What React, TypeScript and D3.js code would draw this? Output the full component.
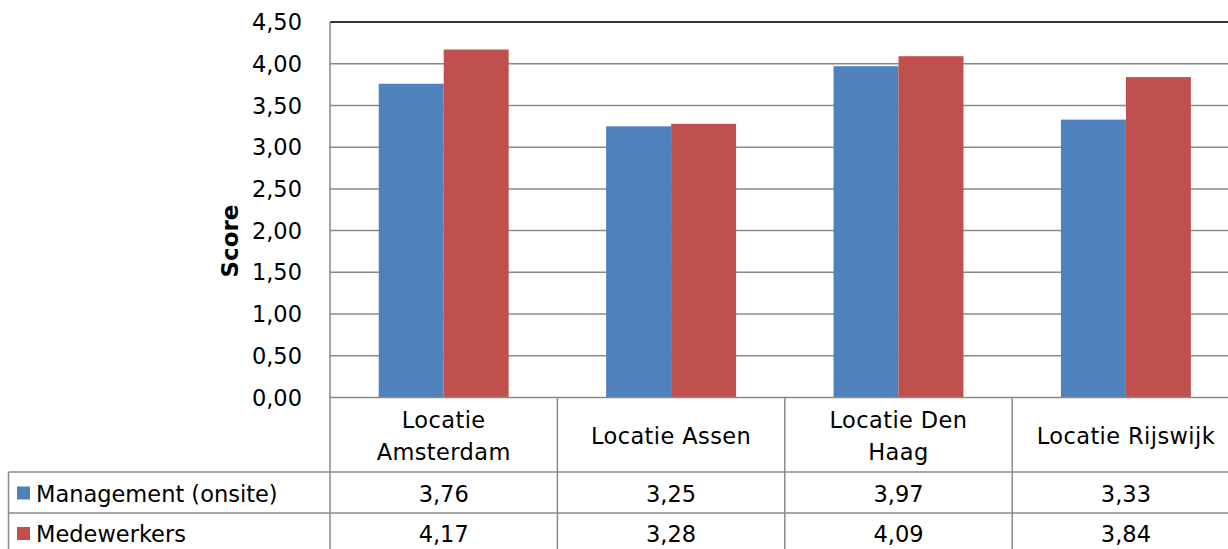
import React from "react";
import * as d3 from "d3";

const categories = [
  ["Locatie", "Amsterdam"],
  ["Locatie Assen"],
  ["Locatie Den", "Haag"],
  ["Locatie Rijswijk"],
];
const seriesNames = ["Management (onsite)", "Medewerkers"];
const management = [3.76, 3.25, 3.97, 3.33];
const medewerkers = [4.17, 3.28, 4.09, 3.84];
const seriesColors = ["#4F81BD", "#C0504D"];
const yTicks = [0, 0.5, 1, 1.5, 2, 2.5, 3, 3.5, 4, 4.5];

const W = 1228;
const H = 549;
const FONT = "'DejaVu Sans', sans-serif";
const FS = 22.5;

const plotLeft = 330;
const plotTop = 22;
const plotBottom = 397.5;
const catWidth = 227.4;
const plotRight = plotLeft + catWidth * categories.length;
const headerBottom = 472;
const row1Bottom = 513;
const row2Bottom = 554;
const tableLeft = 8.5;
const gridColor = "#8a8a8a";

const fmt = (v: number) => v.toFixed(2).replace(".", ",");

export default function App() {
  const series = [management, medewerkers];
  const y = d3.scaleLinear().domain([0, 4.5]).range([plotBottom, plotTop]);
  const x = d3
    .scaleBand<number>()
    .domain(d3.range(categories.length))
    .range([plotLeft, plotRight])
    .padding(0);
  const xs = d3
    .scaleBand<number>()
    .domain(d3.range(series.length))
    .range([0, x.bandwidth()])
    .paddingInner(0)
    .paddingOuter(0.75);

  const rowMid = [493.5, 534];

  return (
    <svg
      width={W}
      height={H}
      style={{ position: "absolute", left: 0, top: 0, background: "#fff" }}
      fontFamily={FONT}
    >
      {/* gridlines */}
      {yTicks.slice(1).map((t) => (
        <line
          key={t}
          x1={plotLeft}
          x2={plotRight}
          y1={y(t)}
          y2={y(t)}
          stroke={gridColor}
          strokeWidth={1.5}
        />
      ))}
      <line x1={plotLeft} x2={plotRight} y1={plotTop} y2={plotTop} stroke="#111" strokeWidth={1.5} />

      {/* bars */}
      {series.map((vals, si) =>
        vals.map((v, ci) => (
          <rect
            key={`${si}-${ci}`}
            x={(x(ci) ?? 0) + (xs(si) ?? 0)}
            y={y(v)}
            width={xs.bandwidth()}
            height={plotBottom - y(v)}
            fill={seriesColors[si]}
          />
        ))
      )}

      {/* y axis */}
      <line x1={plotLeft} x2={plotLeft} y1={plotTop} y2={row2Bottom} stroke={gridColor} strokeWidth={1.5} />
      {yTicks.map((t) => (
        <text
          key={t}
          x={302}
          y={y(t)}
          dy="0.36em"
          textAnchor="end"
          fontSize={FS}
          fill="#000"
        >
          {fmt(t)}
        </text>
      ))}
      <text
        transform={`translate(${238},${241}) rotate(-90)`}
        textAnchor="middle"
        fontSize={23}
        fontWeight="bold"
        fill="#000"
      >
        Score
      </text>

      {/* data table grid */}
      <line x1={plotLeft} x2={plotRight} y1={plotBottom} y2={plotBottom} stroke={gridColor} strokeWidth={1.5} />
      <line x1={tableLeft} x2={plotRight} y1={headerBottom} y2={headerBottom} stroke={gridColor} strokeWidth={1.5} />
      <line x1={tableLeft} x2={plotRight} y1={row1Bottom} y2={row1Bottom} stroke={gridColor} strokeWidth={1.5} />
      <line x1={tableLeft} x2={tableLeft} y1={headerBottom} y2={row2Bottom} stroke={gridColor} strokeWidth={1.5} />
      {categories.map((_, ci) => (
        <line
          key={ci}
          x1={(x(ci) ?? 0) + x.bandwidth()}
          x2={(x(ci) ?? 0) + x.bandwidth()}
          y1={plotBottom}
          y2={row2Bottom}
          stroke={gridColor}
          strokeWidth={1.5}
        />
      ))}

      {/* category headers */}
      {categories.map((lines, ci) => {
        const cx = (x(ci) ?? 0) + x.bandwidth() / 2;
        const mid = 436;
        const lh = 32;
        const start = mid - ((lines.length - 1) * lh) / 2;
        return (
          <text key={ci} x={cx} textAnchor="middle" fontSize={FS} fill="#000" letterSpacing={0.4}>
            {lines.map((l, li) => (
              <tspan key={li} x={cx} y={start + li * lh} dy="0.36em">
                {l}
              </tspan>
            ))}
          </text>
        );
      })}

      {/* legend rows + values */}
      {series.map((vals, si) => (
        <g key={si}>
          <rect x={17} y={rowMid[si] - 7} width={13} height={13} fill={seriesColors[si]} />
          <text x={36} y={rowMid[si]} dy="0.36em" fontSize={FS} fill="#000">
            {seriesNames[si]}
          </text>
          {vals.map((v, ci) => (
            <text
              key={ci}
              x={(x(ci) ?? 0) + x.bandwidth() / 2}
              y={rowMid[si]}
              dy="0.36em"
              textAnchor="middle"
              fontSize={FS}
              fill="#000"
            >
              {fmt(v)}
            </text>
          ))}
        </g>
      ))}
    </svg>
  );
}
